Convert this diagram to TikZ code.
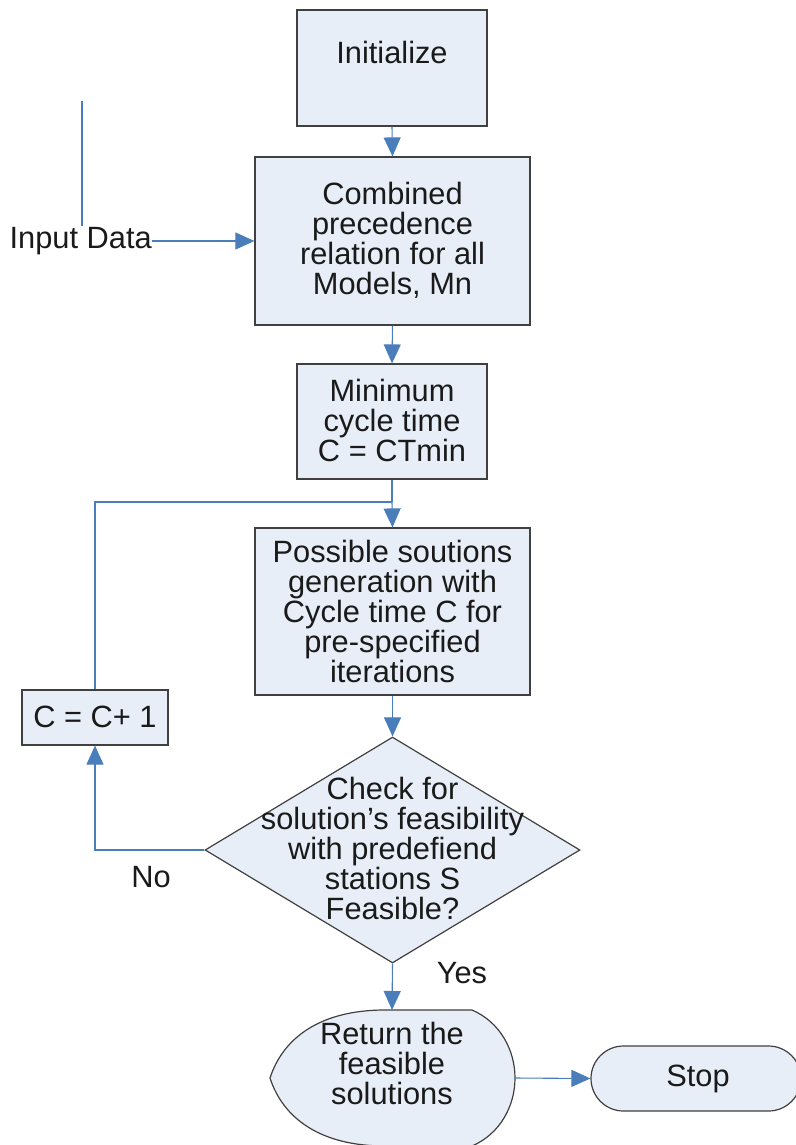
\documentclass[tikz,border=0pt]{standalone}
\usepackage{fontspec}
\setmainfont{Liberation Sans}
\usetikzlibrary{arrows.meta,shapes.geometric}
\definecolor{boxfill}{HTML}{E8EEF7}
\definecolor{boxline}{HTML}{404040}
\definecolor{connc}{HTML}{4A7EBB}
\definecolor{txt}{HTML}{1A1A1A}
\begin{document}
\begin{tikzpicture}[x=1pt,y=-1pt,
 box/.style={draw=boxline, fill=boxfill, line width=1.2pt, inner sep=0pt},
 lbl/.style={text=txt, font=\fontsize{30.8}{30}\selectfont, align=center, inner sep=0pt},
 conn/.style={draw=connc, line width=1.1pt},
 arr/.style={conn, -{Triangle[length=19pt,width=17pt]}},
]
\useasboundingbox (0,0) rectangle (795,1145);

% boxes
\node[box, minimum width=190pt, minimum height=116pt] (init) at (392,68) {};
\node[lbl] (initT) at (392,52) {Initialize};

\node[box, minimum width=275pt, minimum height=168pt] (comb) at (392.5,241) {};
\node[lbl] (combT) at (392.5,240) {Combined\\precedence\\relation for all\\Models, Mn};

\node[box, minimum width=190pt, minimum height=115pt] (minc) at (392,421.5) {};
\node[lbl] (mincT) at (392,420) {Minimum\\cycle time\\C = CTmin};

\node[box, minimum width=275pt, minimum height=167pt] (poss) at (392.5,611.5) {};
\node[lbl] (possT) at (392.5,611) {Possible soutions\\generation with\\Cycle time C for\\pre-specified\\iterations};

\node[box, diamond, minimum width=375pt, minimum height=226pt] (dec) at (392.5,850) {};
\node[lbl] (decT) at (392.5,848.5) {Check for\\solution’s feasibility\\with predefiend\\stations S\\Feasible?};

\node[box, minimum width=146pt, minimum height=55pt] (cinc) at (95,717.5) {};
\node[lbl] (cincT) at (95,717) {C = C+ 1};

% return shape
\coordinate (retL) at (270,1078);
\coordinate (retR) at (515,1078);
\coordinate (retTop) at (392,1010);
\draw[box] (retL) .. controls (283,1038) and (320,1010) .. (385,1010) -- (472,1010)
  .. controls (500,1022) and (515,1050) .. (retR)
  .. controls (515,1106) and (500,1134) .. (472,1146) -- (385,1146)
  .. controls (320,1146) and (283,1118) .. (retL) -- cycle;
\node[lbl] (retT) at (392,1063) {Return the\\feasible\\solutions};

\node[box, rounded corners=32.5pt, minimum width=210pt, minimum height=65pt] (stop) at (696,1078.5) {};
\node[lbl] (stopT) at (698,1079) {Stop};

% input data
\node[lbl, anchor=east] (inp) at (152,241) {Input Data};
\coordinate (s1) at (82,101);
\coordinate (s2) at (82,226);
\draw[conn] (s1) -- (s2);

% connectors
\draw[arr] (inp.east) -- (comb.west);
\draw[arr] (init.south) -- (comb.north);
\draw[arr] (comb.south) -- (minc.north);
\coordinate (join) at (392,502);
\draw[conn] (minc.south) -- (join);
\draw[conn] (cinc.north) |- (join);
\draw[arr] (join) -- (poss.north);
\draw[arr] (poss.south) -- (dec.north);
\draw[arr] (dec.west) -| (cinc.south);
\draw[arr] (dec.south) -- (retTop);
\draw[arr] (retR) -- (stop.west);

\node[lbl] (no) at (151,877) {No};
\node[lbl] (yes) at (462,973) {Yes};
\end{tikzpicture}
\end{document}
